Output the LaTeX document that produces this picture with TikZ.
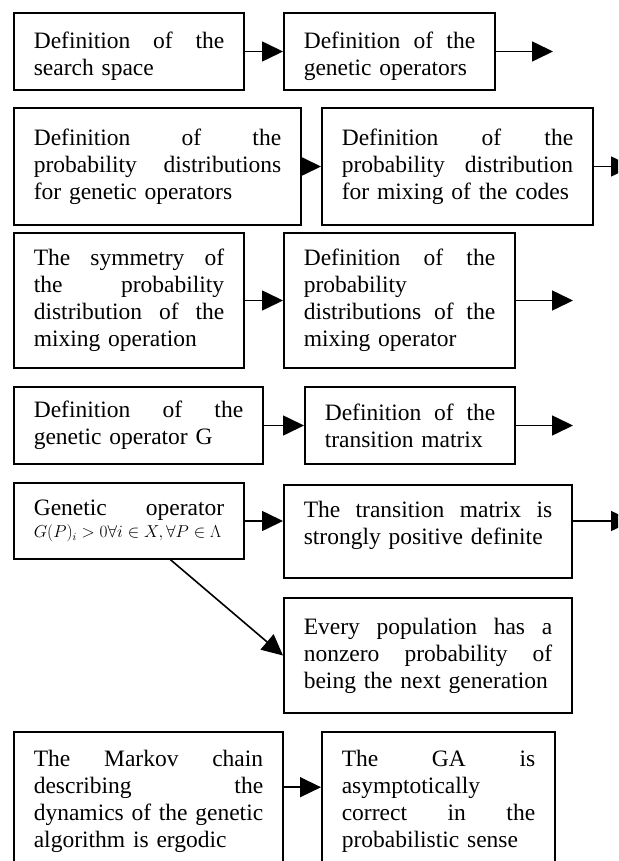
\documentclass[tikz,border=0pt]{standalone}
\usepackage{fontspec}
\setmainfont{Liberation Serif}
\usetikzlibrary{arrows.meta,calc}
\newcommand{\jline}[1]{{\spaceskip=0pt\xspaceskip=0pt\makebox[\boxtw][s]{#1}}}
\newcommand{\boxtw}{0pt}
\tikzset{
  box/.style={draw, line width=1.6pt, inner xsep=20pt, inner ysep=0pt, align=left,
    font=\fontsize{23.5}{27}\selectfont},
  tw/.style={text width=#1, execute at begin node={\def\boxtw{#1}}},
  arr/.style={line width=1.6pt, -{Triangle[length=21pt,width=20pt]}}
}
\begin{document}
\begin{tikzpicture}[x=1pt,y=-1pt]
\useasboundingbox (0,0) rectangle (618,861);
\begin{scope}
\clip (0,0) rectangle (618,861);
\fill[white] (0,0) rectangle (618,861);
% row 1
\node[box, tw=190.4pt, minimum height=77pt] (A) at (129,51.5)
  {\jline{\rule{0pt}{26pt}Definition of the}\\search space};
\node[box, tw=171.4pt, minimum height=77pt] (B) at (389.5,51.5)
  {\jline{\rule{0pt}{26pt}Definition of the}\\genetic operators};
% row 2
\node[box, tw=247.4pt, minimum height=117pt] (C) at (157.5,166.5)
  {\jline{Definition of the}\\\jline{probability distributions}\\for genetic operators};
\node[box, tw=231.4pt, minimum height=117pt] (D) at (457.5,166.5)
  {\jline{Definition of the}\\\jline{probability distribution}\\for mixing of the codes};
% row 3
\node[box, tw=190.4pt, minimum height=135pt] (E) at (129,300.5)
  {\jline{The symmetry of}\\\jline{the probability}\\\jline{distribution of the}\\mixing operation};
\node[box, tw=191.4pt, minimum height=135pt] (F) at (399.5,300.5)
  {\jline{Definition of the}\\probability\\\jline{distributions of the}\\mixing operator};
% row 4
\node[box, tw=209.4pt, minimum height=77pt] (G) at (138.5,425.5)
  {\jline{Definition of the}\\genetic operator G};
\node[box, tw=170.4pt, minimum height=77pt] (H) at (410,425.5)
  {\jline{Definition of the}\\transition matrix};
% row 5
\node[box, tw=190.4pt, minimum height=76pt] (I) at (129,521)
  {\jline{Genetic operator}\par{\fontsize{16}{22}\selectfont $G(P)_i > 0\forall i \in X, \forall P \in \Lambda$\par}};
\node[box, tw=248.4pt, minimum height=93pt] (J) at (428,531.5)
  {\jline{The transition matrix is}\\strongly positive definite\rule[-18pt]{0pt}{0pt}};
\node[box, tw=248.4pt, minimum height=115pt] (K) at (428,655.5)
  {\jline{Every population has a}\\\jline{nonzero probability of}\\being the next generation};
% row 6
\node[box, tw=229.4pt, minimum height=138pt] (L) at (148.5,801)
  {\jline{The Markov chain}\\\jline{describing the}\\\jline{dynamics of the genetic}\\algorithm is ergodic};
\node[box, tw=193.4pt, minimum height=138pt] (M) at (438.5,801)
  {\jline{The GA is}\\asymptotically\\\jline{correct in the}\\probabilistic sense};
% free ends
\coordinate (b1) at (553,51.5);
\coordinate (d1) at (632,166.5);
\coordinate (f1) at (573,300.5);
\coordinate (h1) at (573,425.5);
\coordinate (j1) at (632,521);
% connectors
\draw[arr] (A.east) -- (B.west);
\draw[arr] (B.east) -- (b1);
\draw[arr] (C.east) -- (D.west);
\draw[arr] (D.east) -- (d1);
\draw[arr] (E.east) -- (F.west);
\draw[arr] (F.east) -- (f1);
\draw[arr] (G.east) -- (H.west);
\draw[arr] (H.east) -- (h1);
\draw[arr] (I.east) -- (I.east -| J.west);
\draw[arr] (J.east |- j1) -- (j1);
\draw[arr] (I.-43) -- (K.west);
\draw[arr] ($(L.north east)+(0,56)$) -- ($(M.north west)+(0,56)$);
\end{scope}
\end{tikzpicture}
\end{document}
